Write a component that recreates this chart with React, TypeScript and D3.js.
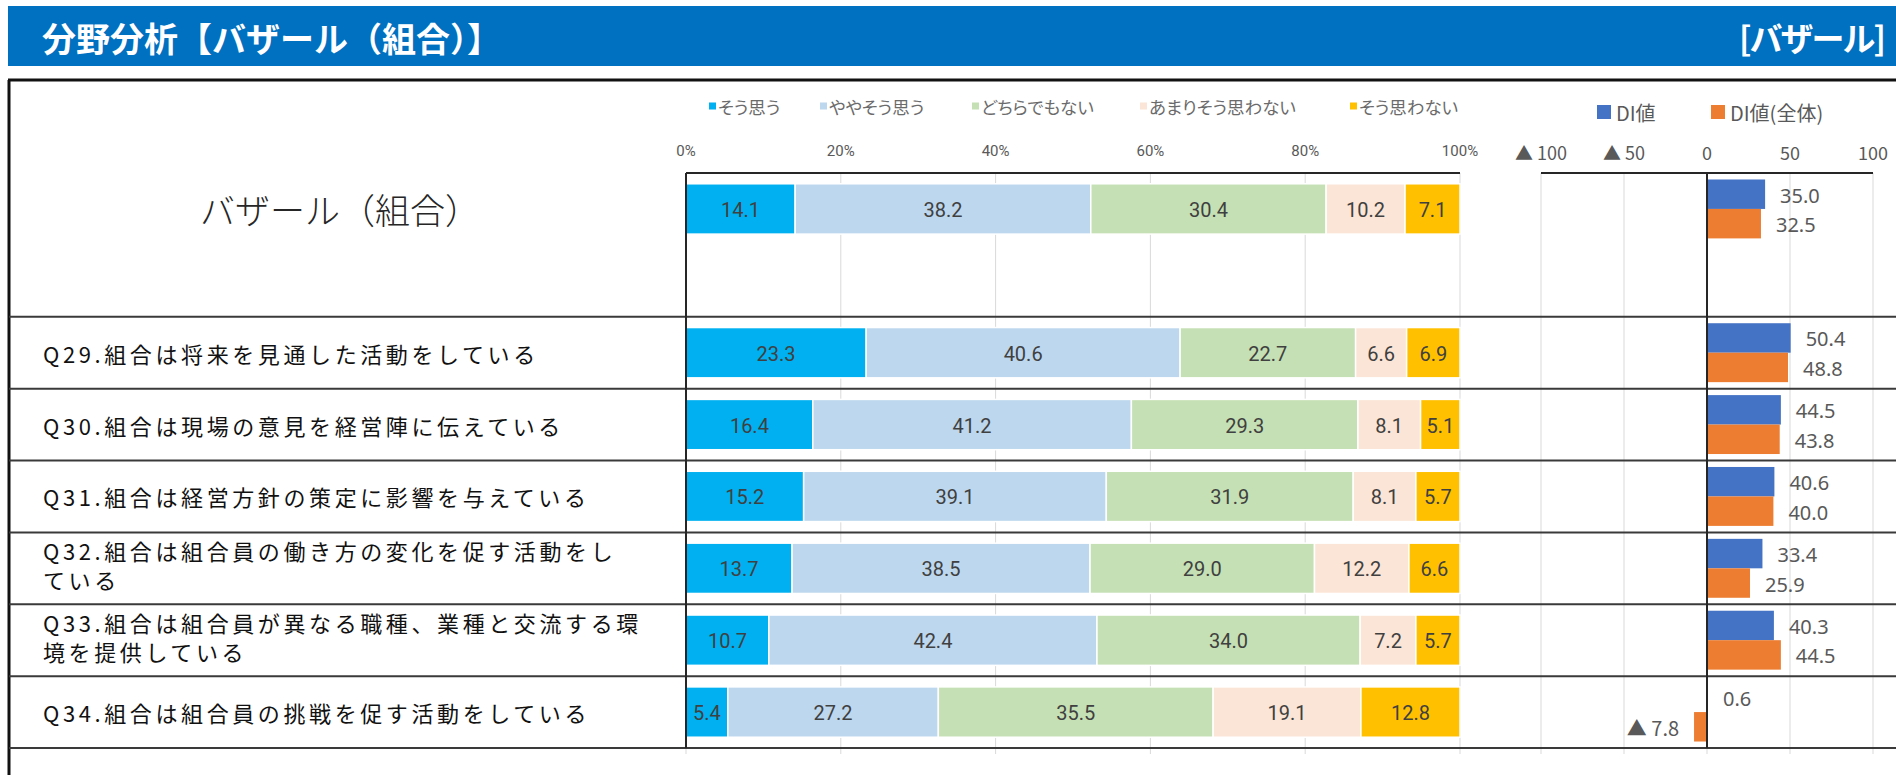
import * as d3 from 'd3'

// rows of the chart (first row = overall, others = questions)
const rowLabels = [
  'バザール（組合）',
  'Q29.組合は将来を見通した活動をしている',
  'Q30.組合は現場の意見を経営陣に伝えている',
  'Q31.組合は経営方針の策定に影響を与えている',
  'Q32.組合は組合員の働き方の変化を促す活動をし\nている',
  'Q33.組合は組合員が異なる職種、業種と交流する環\n境を提供している',
  'Q34.組合は組合員の挑戦を促す活動をしている',
]

const seriesNames = ['そう思う', 'ややそう思う', 'どちらでもない', 'あまりそう思わない', 'そう思わない']
const soOmou = [14.1, 23.3, 16.4, 15.2, 13.7, 10.7, 5.4]
const yayaSoOmou = [38.2, 40.6, 41.2, 39.1, 38.5, 42.4, 27.2]
const dochiraDemo = [30.4, 22.7, 29.3, 31.9, 29.0, 34.0, 35.5]
const amariOmowanai = [10.2, 6.6, 8.1, 8.1, 12.2, 7.2, 19.1]
const soOmowanai = [7.1, 6.9, 5.1, 5.7, 6.6, 5.7, 12.8]

const diNames = ['DI値', 'DI値(全体)']
const diValue = [35.0, 50.4, 44.5, 40.6, 33.4, 40.3, 0.6]
const diAll = [32.5, 48.8, 43.8, 40.0, 25.9, 44.5, -7.8]

const pctTicks = [0, 20, 40, 60, 80, 100]
const diTicks = [-100, -50, 0, 50, 100]

const seriesColors = ['#00B0F0', '#BDD7EE', '#C5E0B4', '#FBE5D6', '#FFC000']
const diColors = ['#4472C4', '#ED7D31']

const JP = '"Noto Sans CJK JP", "Noto Sans", sans-serif'
const NARROW = '"Liberation Sans Narrow", "Roboto", "Noto Sans", sans-serif'
const NUM = '"Noto Sans", "Open Sans", sans-serif'

const W = 1896
const H = 775
const plotTop = 173
const plotBottom = 748

const fmt = d3.format('.1f')
const fmtDI = (v: number) => (v < 0 ? '▲ ' + fmt(-v) : fmt(v))
const fmtTick = (v: number) => (v < 0 ? '▲ ' + (-v) : String(v))

export default function App() {
  // band domain: overall row, an empty spacer row, then the questions
  const domain = [rowLabels[0], 'spacer', ...rowLabels.slice(1)]
  const yRow = d3.scaleBand<string>().domain(domain).range([plotTop, plotBottom])
  const step = yRow.bandwidth()

  const x = d3.scaleLinear().domain([0, 1]).range([686, 1460])
  const xDI = d3.scaleLinear().domain([-100, 100]).range([1541, 1873])
  const ySub = d3.scaleBand<string>().domain(diNames).range([0, step]).paddingOuter(0.22)

  const table = rowLabels.map((label, i) => ({
    label,
    [seriesNames[0]]: soOmou[i],
    [seriesNames[1]]: yayaSoOmou[i],
    [seriesNames[2]]: dochiraDemo[i],
    [seriesNames[3]]: amariOmowanai[i],
    [seriesNames[4]]: soOmowanai[i],
  }))
  const stacked = d3.stack<any>().keys(seriesNames).offset(d3.stackOffsetExpand)(table)

  const barH = step * 0.7
  const barOff = step * 0.15

  const legendX = [709, 820, 972, 1140, 1350]
  const diLegendX = [1597, 1711]

  const separators = [...domain.slice(2).map(k => yRow(k)!), plotBottom]

  return (
    <svg width={W} height={H} style={{ position: 'absolute', left: 0, top: 0, background: '#fff' }}>
      {/* header */}
      <rect x={8} y={6} width={W - 8} height={60} fill="#0070C0" />
      <text x={42} y={37} fill="#fff" fontFamily={JP} fontWeight={700} fontSize={34} dominantBaseline="central">
        分野分析【バザール（組合）】
      </text>
      <text x={1884} y={37} fill="#fff" fontFamily={JP} fontWeight={700} fontSize={33} letterSpacing={-2} textAnchor="end" dominantBaseline="central">
        [バザール]
      </text>

      {/* gridlines */}
      {pctTicks.map(t => (
        <line key={'g' + t} x1={x(t / 100)} x2={x(t / 100)} y1={plotTop} y2={plotBottom + 6} stroke="#D9D9D9" strokeWidth={1} />
      ))}
      {diTicks.map(t => (
        <line key={'gd' + t} x1={xDI(t)} x2={xDI(t)} y1={plotTop} y2={plotBottom + 6} stroke="#D9D9D9" strokeWidth={1} />
      ))}

      {/* table frame */}
      <line x1={8} x2={W} y1={80} y2={80} stroke="#111" strokeWidth={3} />
      <line x1={9} x2={9} y1={80} y2={H} stroke="#111" strokeWidth={3} />
      {separators.map((y, i) => (
        <line key={'s' + i} x1={9} x2={W} y1={y} y2={y} stroke="#3a3a3a" strokeWidth={2} />
      ))}

      {/* legend of the stacked bars */}
      {seriesNames.map((name, i) => (
        <g key={name} transform={`translate(${legendX[i]},106)`}>
          <rect x={0} y={-3.5} width={7} height={7} fill={seriesColors[i]} />
          <text x={9} y={0} fontFamily={JP} fontSize={17.5} fill="#6b6b6b" dominantBaseline="central" style={{ fontFeatureSettings: '"palt"' }}>
            {name}
          </text>
        </g>
      ))}

      {/* legend of DI */}
      {diNames.map((name, i) => (
        <g key={name} transform={`translate(${diLegendX[i]},112)`}>
          <rect x={0} y={-7} width={14} height={14} fill={diColors[i]} />
          <text x={19} y={0} fontFamily={JP} fontSize={20} fill="#595959" dominantBaseline="central">
            {name}
          </text>
        </g>
      ))}

      {/* axis tick labels */}
      {pctTicks.map(t => (
        <text key={'t' + t} x={x(t / 100)} y={151} fontFamily={NARROW} fontSize={15} fill="#595959" textAnchor="middle" dominantBaseline="central">
          {t + '%'}
        </text>
      ))}
      {diTicks.map(t => (
        <text key={'td' + t} x={xDI(t)} y={152} fontFamily={JP} fontSize={18} fill="#595959" textAnchor="middle" dominantBaseline="central">
          {fmtTick(t)}
        </text>
      ))}

      {/* stacked bars */}
      {stacked.map((layer, si) => (
        <g key={layer.key}>
          {layer.map((d, ri) => {
            const y0 = yRow(d.data.label)! + barOff
            const x0 = x(d[0])
            const x1 = x(d[1])
            return (
              <g key={ri}>
                <rect x={x0} y={y0} width={x1 - x0} height={barH} fill={seriesColors[si]} stroke="#fff" strokeWidth={1.5} />
                <text x={(x0 + x1) / 2} y={y0 + barH / 2 + 1} fontFamily={NARROW} fontSize={20} fill="#404040" textAnchor="middle" dominantBaseline="central">
                  {fmt(d.data[layer.key])}
                </text>
              </g>
            )
          })}
        </g>
      ))}

      {/* DI bars */}
      {[diValue, diAll].map((vals, si) => (
        <g key={diNames[si]}>
          {vals.map((v, ri) => {
            const y0 = yRow(rowLabels[ri])! + ySub(diNames[si])!
            const h = ySub.bandwidth()
            const xa = xDI(Math.min(0, v))
            const xb = xDI(Math.max(0, v))
            return (
              <g key={ri}>
                <rect x={xa} y={y0} width={xb - xa} height={h} fill={diColors[si]} />
                <text
                  x={v < 0 ? xa - 15 : xb + 15}
                  y={y0 + h / 2 + 1}
                  fontFamily={v < 0 ? JP : NUM}
                  fontSize={20}
                  fill="#595959"
                  textAnchor={v < 0 ? 'end' : 'start'}
                  dominantBaseline="central"
                >
                  {fmtDI(v)}
                </text>
              </g>
            )
          })}
        </g>
      ))}

      {/* axes / plot borders */}
      <line x1={x(0)} x2={x(1)} y1={plotTop} y2={plotTop} stroke="#262626" strokeWidth={2} />
      <line x1={x(0)} x2={x(0)} y1={plotTop} y2={plotBottom} stroke="#262626" strokeWidth={2} />
      <line x1={xDI(-100)} x2={xDI(100)} y1={plotTop} y2={plotTop} stroke="#262626" strokeWidth={2} />
      <line x1={xDI(0)} x2={xDI(0)} y1={plotTop} y2={plotBottom} stroke="#262626" strokeWidth={2} />

      {/* row labels */}
      <text x={340} y={yRow(rowLabels[0])! + step / 2} fontFamily={JP} fontWeight={300} fontSize={35} fill="#262626" textAnchor="middle" dominantBaseline="central">
        {rowLabels[0]}
      </text>
      {rowLabels.slice(1).map(label => {
        const lines = label.split('\n')
        const cy = yRow(label)! + step / 2 - (lines.length > 1 ? 4 : 0)
        return (
          <text key={label} fontFamily={JP} fontSize={22} fill="#111" letterSpacing={3.6} dominantBaseline="central">
            {lines.map((ln, li) => (
              <tspan key={li} x={43} y={cy + (li - (lines.length - 1) / 2) * 29}>
                {ln}
              </tspan>
            ))}
          </text>
        )
      })}
    </svg>
  )
}
